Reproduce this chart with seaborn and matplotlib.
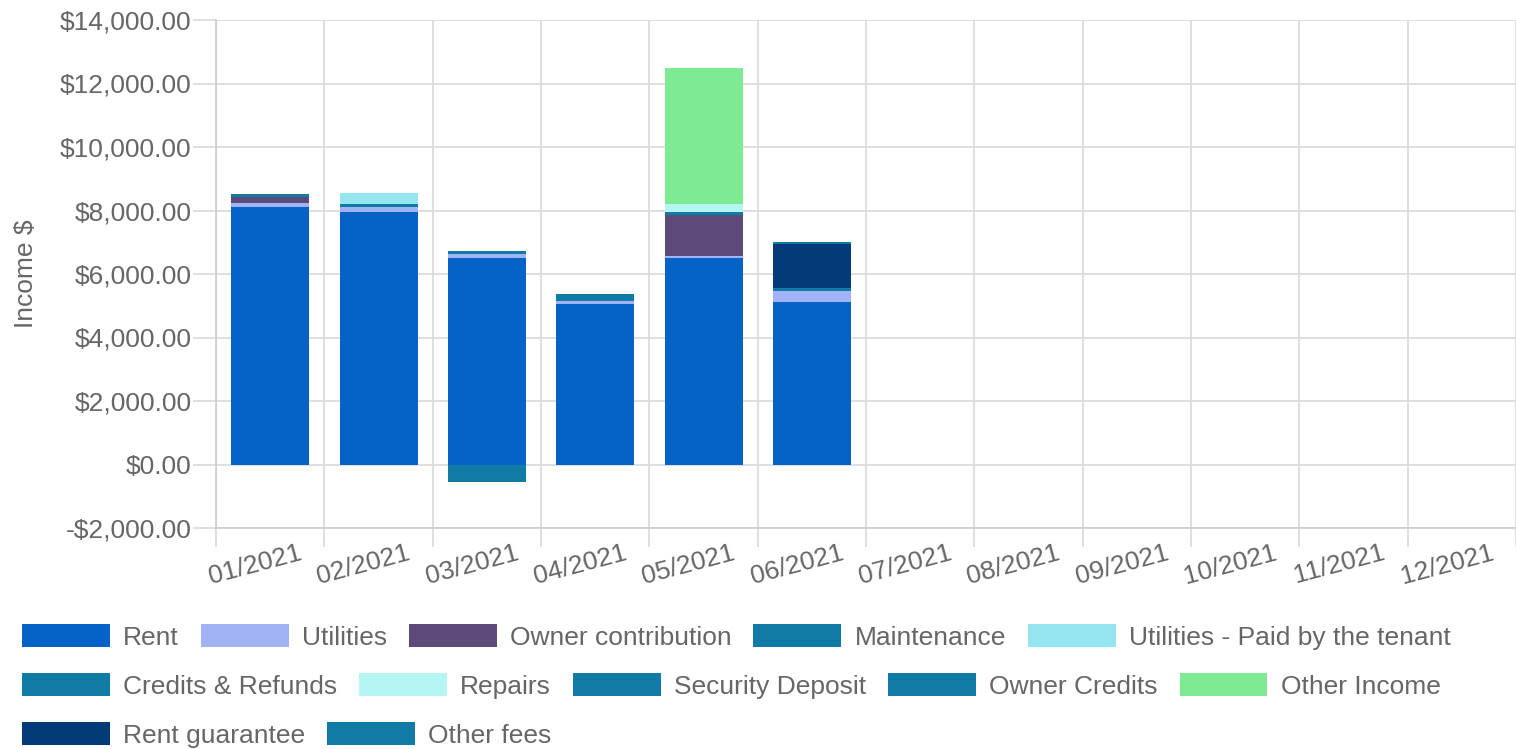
import numpy as np
import matplotlib
matplotlib.use("Agg")
import matplotlib.pyplot as plt
from matplotlib.patches import Patch
from matplotlib.ticker import FuncFormatter
import seaborn as sns

months = ["01/2021", "02/2021", "03/2021", "04/2021", "05/2021", "06/2021",
          "07/2021", "08/2021", "09/2021", "10/2021", "11/2021", "12/2021"]

# values per month, $
rent = [8100, 7950, 6490, 5070, 6490, 5120, 0, 0, 0, 0, 0, 0]
utilities = [140, 155, 135, 95, 75, 345, 0, 0, 0, 0, 0, 0]
owner_contribution = [175, 0, 0, 0, 1290, 0, 0, 0, 0, 0, 0, 0]
maintenance = [105, 85, 85, 190, 105, 105, 0, 0, 0, 0, 0, 0]
utilities_tenant = [0, 375, 0, 0, 0, 0, 0, 0, 0, 0, 0, 0]
credits_refunds = [0, 0, -560, 0, 0, 0, 0, 0, 0, 0, 0, 0]
repairs = [0, 0, 0, 0, 240, 0, 0, 0, 0, 0, 0, 0]
security_deposit = [0, 0, 0, 0, 0, 0, 0, 0, 0, 0, 0, 0]
owner_credits = [0, 0, 0, 0, 0, 0, 0, 0, 0, 0, 0, 0]
other_income = [0, 0, 0, 0, 4290, 0, 0, 0, 0, 0, 0, 0]
rent_guarantee = [0, 0, 0, 0, 0, 1365, 0, 0, 0, 0, 0, 0]
other_fees = [0, 0, 0, 0, 0, 75, 0, 0, 0, 0, 0, 0]

series = [
    ("Rent", rent, "#0563C8"),
    ("Utilities", utilities, "#A2B3F5"),
    ("Owner contribution", owner_contribution, "#5C4A7A"),
    ("Maintenance", maintenance, "#107BA5"),
    ("Utilities - Paid by the tenant", utilities_tenant, "#95E6F0"),
    ("Credits & Refunds", credits_refunds, "#107BA5"),
    ("Repairs", repairs, "#B5F5F2"),
    ("Security Deposit", security_deposit, "#107BA5"),
    ("Owner Credits", owner_credits, "#107BA5"),
    ("Other Income", other_income, "#7EEA94"),
    ("Rent guarantee", rent_guarantee, "#033A78"),
    ("Other fees", other_fees, "#107BA5"),
]
legend_rows = [5, 5, 2]

sns.set_style("white")
plt.rcParams['font.family'] = ['Liberation Sans', 'DejaVu Sans']
txt = "#666666"
grid = "#d9d9d9"

fig = plt.figure(figsize=(15.16, 7.49), dpi=100)
ax = fig.add_axes([216 / 1516, 1 - 528 / 749, 1300 / 1516, 508 / 749])

pos = np.zeros(len(months))
neg = np.zeros(len(months))
for name, vals, col in series:
    v = np.array(vals, dtype=float)
    bottom = np.where(v >= 0, pos, neg)
    sns.barplot(x=months, y=v, order=months, bottom=bottom, color=col,
                saturation=1, width=0.72, errorbar=None, ax=ax,
                linewidth=0, zorder=3)
    pos = pos + np.clip(v, 0, None)
    neg = neg + np.clip(v, None, 0)

ax.set_xlim(-0.5, 11.4)
ax.set_ylim(-2000, 14000)
ax.set_yticks(range(-2000, 14001, 2000))
ax.yaxis.set_major_formatter(FuncFormatter(
    lambda v, p: ("-$" if v < 0 else "$") + f"{abs(v):,.2f}"))

# labels sit a bit right of the band centre, as in the original
ax.set_xticks(np.arange(12) + 0.26)
ax.set_xticklabels(months, rotation=15, ha="right", va="top",
                   rotation_mode="anchor")
ax.set_xticks(np.arange(-0.5, 12, 1), minor=True)
ax.tick_params(axis="x", which="major", bottom=True, length=0, pad=9,
               labelsize=19, labelcolor=txt)
ax.tick_params(axis="x", which="minor", bottom=True, length=14, width=1.2,
               color=grid)
ax.tick_params(axis="y", left=True, length=16.5, width=1.2, color=grid,
               pad=1, labelsize=19, labelcolor=txt)

ax.grid(False)
ax.xaxis.grid(True, which="minor", color=grid, linewidth=1.2, zorder=0)
ax.yaxis.grid(True, which="major", color=grid, linewidth=1.2, zorder=0)
ax.set_axisbelow(True)
for s in ["top", "right"]:
    ax.spines[s].set_visible(False)
ax.spines["left"].set_color("#cccccc")
ax.spines["bottom"].set_color("#cccccc")
ax.spines["left"].set_linewidth(1.2)
ax.spines["bottom"].set_linewidth(1.2)

ax.set_xlabel("")
ax.set_ylabel("Income $", fontsize=19, color=txt)
ax.yaxis.set_label_coords(-0.137, 0.5)

handles = [Patch(facecolor=c, edgecolor="none", label=n) for n, _, c in series]
row_y = [1 - 637 / 749, 1 - 686 / 749, 1 - 735 / 749]
start = 0
for n, y in zip(legend_rows, row_y):
    row = handles[start:start + n]
    start += n
    leg = fig.legend(handles=row, ncol=n, loc="center left",
                     bbox_to_anchor=(22 / 1516, y), frameon=False,
                     fontsize=19, handlelength=3.33, handleheight=0.98,
                     handletextpad=0.5, columnspacing=0.83, borderpad=0,
                     borderaxespad=0)
    for t in leg.get_texts():
        t.set_color(txt)

fig.savefig("out.png", dpi=100)
